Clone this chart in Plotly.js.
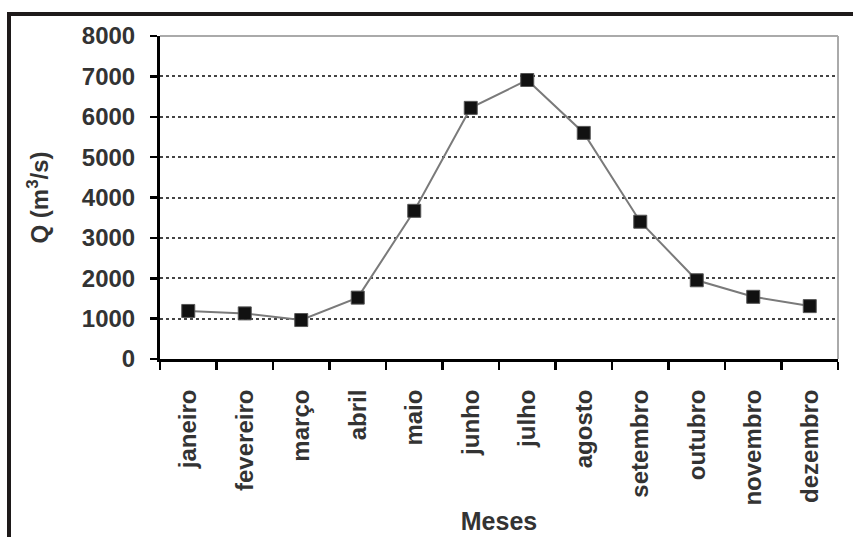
<!DOCTYPE html>
<html>
<head>
<meta charset="utf-8">
<script src="https://cdn.plot.ly/plotly-3.0.1.min.js"></script>
<style>
  html, body { margin:0; padding:0; background:#fff; }
  #wrap { position:relative; width:853px; height:537px; overflow:hidden; }
  #chart { width:853px; height:537px; }
  #frame { position:absolute; left:7px; top:12px; width:900px; height:600px;
           border-top:4px solid #1e1a1a; border-left:4px solid #1e1a1a; pointer-events:none; }
</style>
</head>
<body>
<div id="wrap">
  <div id="chart"></div>
  <div id="frame"></div>
</div>
<script>
const months = ["janeiro","fevereiro","março","abril","maio","junho","julho","agosto","setembro","outubro","novembro","dezembro"];
const discharge = [1190, 1130, 965, 1520, 3670, 6220, 6910, 5600, 3400, 1950, 1540, 1310];
const yTicks = [0, 1000, 2000, 3000, 4000, 5000, 6000, 7000, 8000];
const xTitle = "Meses";
const yTitle = "Q (m<sup>3</sup>/s)";

const fontFam = "Liberation Sans, Arial, sans-serif";

const trace = {
  x: months,
  y: discharge,
  type: "scatter",
  mode: "lines+markers",
  line: { color: "#7a7a7a", width: 2 },
  marker: { symbol: "square", size: 13, color: "#111111", line: { color: "#555", width: 1 } },
  hoverinfo: "x+y"
};

const layout = {
  width: 853, height: 537,
  margin: { l: 160, r: 15, t: 36, b: 178 },
  paper_bgcolor: "#ffffff",
  plot_bgcolor: "#ffffff",
  showlegend: false,
  xaxis: {
    type: "category",
    range: [-0.5, 11.5],
    showline: true, linecolor: "#000", linewidth: 3,
    ticks: "outside", tickson: "boundaries", ticklen: 8, tickwidth: 2.5, tickcolor: "#000",
    tickangle: -90,
    ticklabelstandoff: 18,
    tickfont: { family: fontFam, size: 24, color: "#333", weight: "bold" },
    showgrid: false,
    zeroline: false,
    title: { text: xTitle, font: { family: fontFam, size: 25, color: "#333", weight: "bold" }, standoff: 8 },
    automargin: false
  },
  yaxis: {
    range: [0, 8000],
    tickvals: yTicks,
    ticktext: yTicks.map(String),
    showline: true, linecolor: "#000", linewidth: 3,
    ticks: "outside", ticklen: 7, tickwidth: 2.5, tickcolor: "#000",
    tickfont: { family: fontFam, size: 24, color: "#333", weight: "bold" },
    ticklabelstandoff: 10,
    showgrid: true, gridcolor: "#444", griddash: "dot", gridwidth: 2,
    zeroline: false,
    title: { text: yTitle, font: { family: fontFam, size: 24, color: "#333", weight: "bold" }, standoff: 27 },
    automargin: false
  },
  shapes: [
    { type: "line", xref: "paper", yref: "paper", x0: 0, x1: 1, y0: 1, y1: 1, line: { color: "#aaaaaa", width: 2 }, layer: "above" },
    { type: "line", xref: "paper", yref: "paper", x0: 1, x1: 1, y0: 0, y1: 1, line: { color: "#aaaaaa", width: 2 }, layer: "above" }
  ]
};

Plotly.newPlot("chart", [trace], layout, { displayModeBar: false, staticPlot: true });
</script>
</body>
</html>
